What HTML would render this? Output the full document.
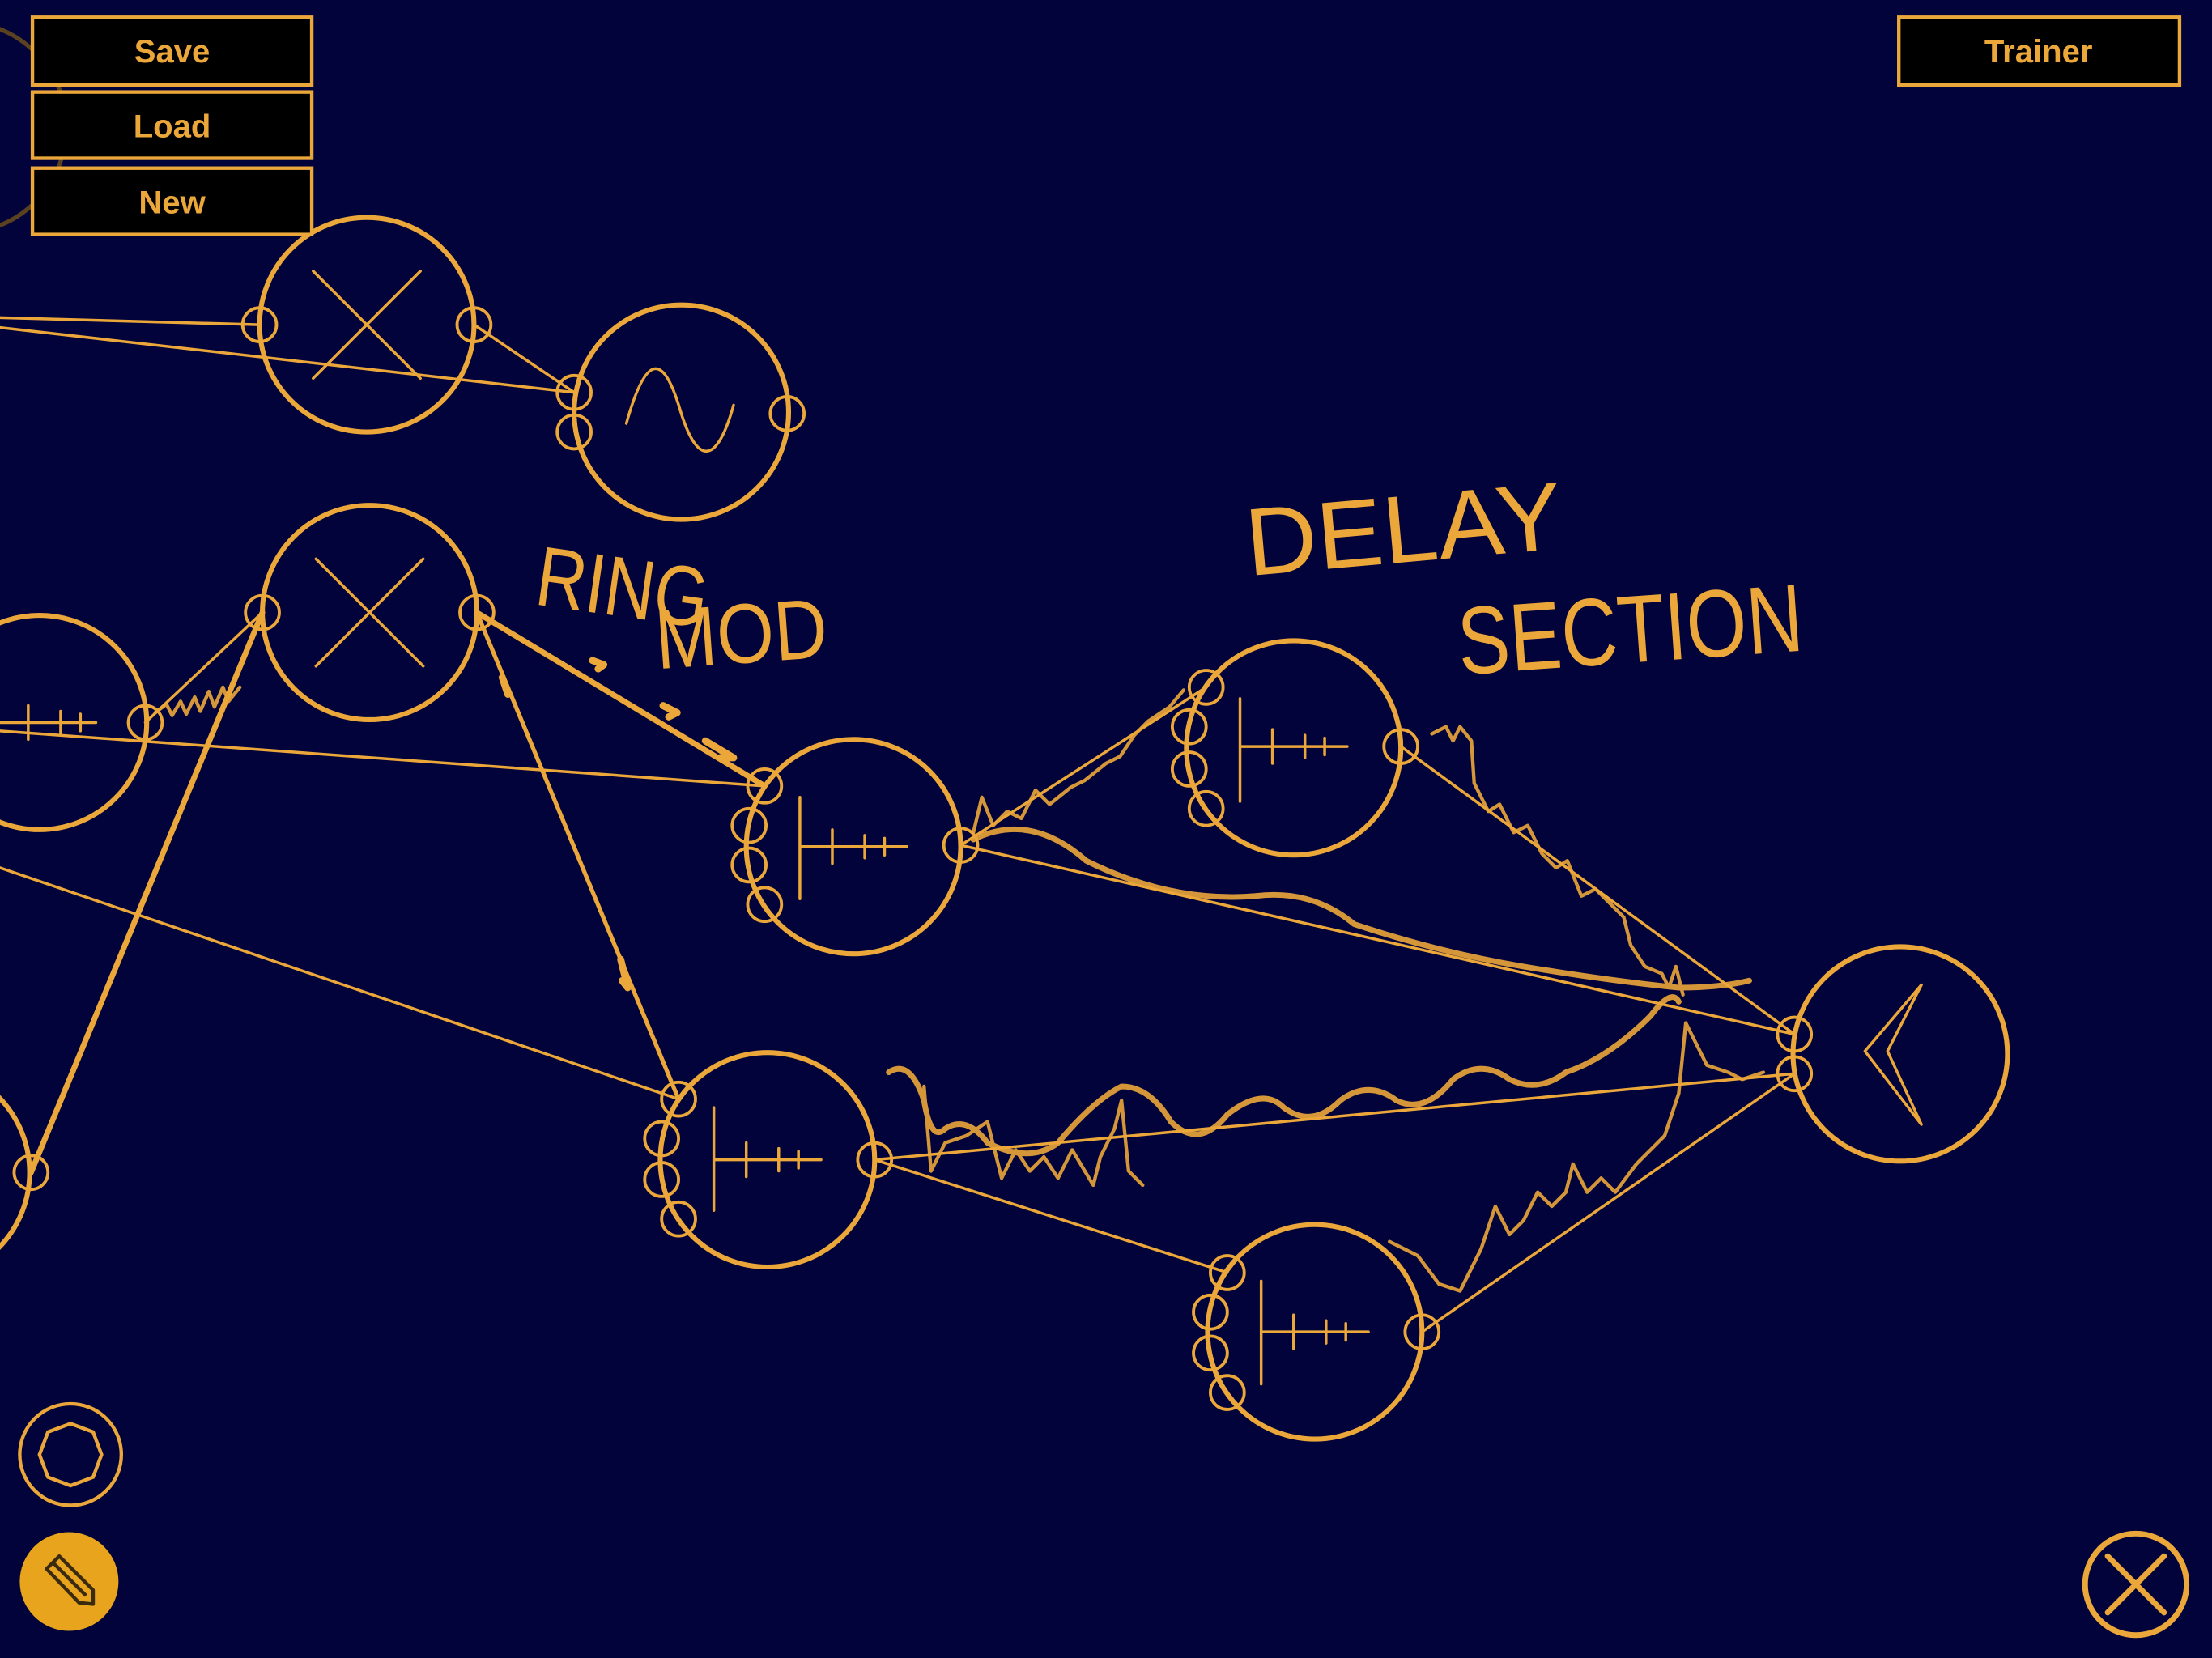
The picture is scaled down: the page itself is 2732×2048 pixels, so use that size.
<!DOCTYPE html>
<html><head><meta charset="utf-8"><style>
html,body{margin:0;padding:0;background:#01033a;width:2732px;height:2048px;overflow:hidden}
svg{display:block}
</style></head><body>
<svg width="2732" height="2048" viewBox="0 0 1568 1175" xmlns="http://www.w3.org/2000/svg">
<rect width="1568" height="1175" fill="#01033a"/>
<g fill="none" stroke="#eca73a" stroke-linecap="round" stroke-linejoin="round">
<circle cx="-28" cy="90" r="75" stroke="#5a4220" stroke-width="3"/>
<circle cx="47" cy="93" r="12" stroke="#5a4220" stroke-width="2"/>
<g stroke-width="2">
<line x1="0" y1="225" x2="184" y2="230"/>
<line x1="0" y1="232" x2="407" y2="278"/>
<line x1="336" y1="230" x2="407" y2="278"/>
<line x1="0" y1="518" x2="542" y2="557"/>
<line x1="0" y1="615" x2="481" y2="779"/>
<line x1="681" y1="599" x2="1272" y2="733"/>
<line x1="993" y1="529" x2="1272" y2="733"/>
<line x1="620" y1="822" x2="1272" y2="761"/>
<line x1="620" y1="822" x2="870" y2="902"/>
<line x1="1008" y1="944" x2="1272" y2="761"/>
<line x1="681" y1="599" x2="855" y2="487"/>
<line x1="103" y1="512" x2="186" y2="434"/>
</g>
<line x1="22" y1="831" x2="186" y2="434" stroke-width="4"/>
<line x1="338" y1="434" x2="542" y2="557" stroke-width="4"/>
<line x1="338" y1="434" x2="481" y2="779" stroke-width="3"/>
<path d="M420 468 l8 3 -4 3 M470 500 l10 5 -6 3 M500 525 l20 12 -10 0 M440 680 l5 20 -4 -5 M356 480 l4 12" stroke-width="5"/>
<g stroke-width="2.5" opacity="0.9">
<path d="M110 505 l8 -6 4 8 6 -10 4 9 6 -12 4 10 6 -14 4 11 6 -14 4 10 8 -10"/>
<path d="M690 590 l6 -25 8 20 10 -10 10 5 10 -20 10 10 15 -12 10 -5 15 -12 10 -5 10 -15 10 -10 15 -10 10 -12"/>
<path d="M690 595 q40 -20 80 15 q60 30 120 25 q40 -5 70 20 q60 20 120 30 q60 10 110 15 q30 0 50 -5" stroke-width="4"/>
<path d="M1015 520 l10 -5 5 10 5 -10 8 10 2 30 10 20 8 -5 10 20 10 -5 10 20 10 10 8 -5 10 25 10 -5 10 10 10 10 5 20 10 15 12 5 5 10 5 -15 5 20"/>
<path d="M630 760 q15 -10 25 20 q5 30 15 20 q15 -10 30 10 q30 15 50 0 q25 -30 45 -40 q20 0 35 25 q20 20 40 -5 q25 -20 40 -5 q20 15 40 -5 q20 -15 40 0 q20 10 40 -15 q20 -15 40 0 q20 10 40 -5 q30 -10 60 -40 q15 -20 20 -10" stroke-width="4"/>
<path d="M655 770 l5 60 10 -20 15 -5 15 -10 10 40 10 -20 10 15 10 -10 10 15 10 -20 15 25 5 -20 10 -20 5 -20 5 50 10 10"/>
<path d="M985 880 l20 10 15 20 15 5 15 -30 10 -30 10 20 10 -10 10 -20 10 10 10 -10 5 -20 10 20 10 -10 10 10 15 -20 10 -10 10 -10 10 -30 5 -50 10 20 5 10 15 5 10 5 15 -5"/>
</g>
<g stroke-width="3.5">
<circle cx="260" cy="230" r="76"/>
<circle cx="483" cy="292" r="76"/>
<circle cx="262" cy="434" r="76"/>
<circle cx="28" cy="512" r="76"/>
<circle cx="605" cy="600" r="76"/>
<circle cx="917" cy="530" r="76"/>
<circle cx="544" cy="822" r="76"/>
<circle cx="932" cy="944" r="76"/>
<circle cx="1347" cy="747" r="76"/>
<circle cx="-55" cy="831" r="76"/>
</g>
<g stroke-width="2.2">
<circle cx="184" cy="230" r="12"/><circle cx="336" cy="230" r="12"/>
<circle cx="407" cy="278" r="12"/><circle cx="407" cy="306" r="12"/><circle cx="558" cy="293" r="12"/>
<circle cx="186" cy="434" r="12"/><circle cx="338" cy="434" r="12"/>
<circle cx="103" cy="512" r="12"/>
<circle cx="542" cy="557" r="12"/><circle cx="531" cy="585" r="12"/><circle cx="531" cy="613" r="12"/><circle cx="542" cy="641" r="12"/><circle cx="681" cy="599" r="12"/>
<circle cx="855" cy="487" r="12"/><circle cx="843" cy="515" r="12"/><circle cx="843" cy="545" r="12"/><circle cx="855" cy="573" r="12"/><circle cx="993" cy="529" r="12"/>
<circle cx="481" cy="779" r="12"/><circle cx="469" cy="807" r="12"/><circle cx="469" cy="836" r="12"/><circle cx="481" cy="864" r="12"/><circle cx="620" cy="822" r="12"/>
<circle cx="870" cy="902" r="12"/><circle cx="858" cy="930" r="12"/><circle cx="858" cy="959" r="12"/><circle cx="870" cy="987" r="12"/><circle cx="1008" cy="944" r="12"/>
<circle cx="1272" cy="733" r="12"/><circle cx="1272" cy="761" r="12"/>
<circle cx="22" cy="831" r="12"/>
</g>
<g stroke-width="2">
<path d="M222 192 L298 268 M298 192 L222 268"/>
<path d="M224 396 L300 472 M300 396 L224 472"/>
<path d="M444 300 C458 250 470 250 482 290 C494 330 508 330 520 287"/>
<path d="M567 565 V637 M567 600 H643 M590 588 V612 M613 592 V608 M627 594 V606"/>
<path d="M879 495 V568 M879 529 H955 M902 517 V541 M925 521 V537 M939 523 V535"/>
<path d="M506 785 V858 M506 822 H582 M529 810 V834 M552 814 V830 M566 816 V828"/>
<path d="M894 908 V981 M894 944 H970 M917 932 V956 M940 936 V952 M954 938 V950"/>
<path d="M0 512 H68 M20 500 V524 M43 504 V520 M57 506 V518"/>
<path d="M1362 698 L1322 745 L1362 797 L1338 745 Z"/>
</g>
</g>
<g fill="#eca73a" font-family="Liberation Sans Narrow, Liberation Sans, sans-serif" font-size="60">
<text x="378" y="428" transform="rotate(8 378 428)" textLength="122" lengthAdjust="spacingAndGlyphs">RING</text>
<text x="466" y="474" transform="rotate(-4 466 474)" textLength="122" lengthAdjust="spacingAndGlyphs">MOD</text>
<text x="885" y="408" font-size="68" transform="rotate(-5 885 408)" textLength="225" lengthAdjust="spacingAndGlyphs">DELAY</text>
<text x="1035" y="478" font-size="68" transform="rotate(-4 1035 478)" textLength="245" lengthAdjust="spacingAndGlyphs">SECTION</text>
</g>
<g stroke="#eca73a" stroke-width="2.5" fill="#000">
<rect x="23" y="12" width="198" height="48"/>
<rect x="23" y="65" width="198" height="47"/>
<rect x="23" y="119" width="198" height="47"/>
<rect x="1346" y="12" width="199" height="48"/>
</g>
<g fill="#eca73a" font-family="Liberation Sans, sans-serif" font-weight="bold" font-size="23" text-anchor="middle">
<text x="122" y="44">Save</text>
<text x="122" y="97">Load</text>
<text x="122" y="151">New</text>
<text x="1445" y="44">Trainer</text>
</g>
<g fill="none" stroke="#eca73a">
<circle cx="50" cy="1031" r="36" stroke-width="2.5"/>
<polygon points="50,1009 66,1015 72,1031 66,1047 50,1053 34,1047 28,1031 34,1015" stroke-width="2.5"/>
<circle cx="1514" cy="1123" r="36" stroke-width="4"/>
<path d="M1494 1103 L1534 1143 M1534 1103 L1494 1143" stroke-width="4" stroke-linecap="round"/>
</g>
<circle cx="49" cy="1121" r="35" fill="#e8a41c"/>
<path d="M33 1112 L42 1103 L66 1127 L66 1137 L56 1136 Z M37 1107 L61 1131" fill="none" stroke="#3a2a10" stroke-width="2.5" stroke-linejoin="round"/>
</svg>
</body></html>
